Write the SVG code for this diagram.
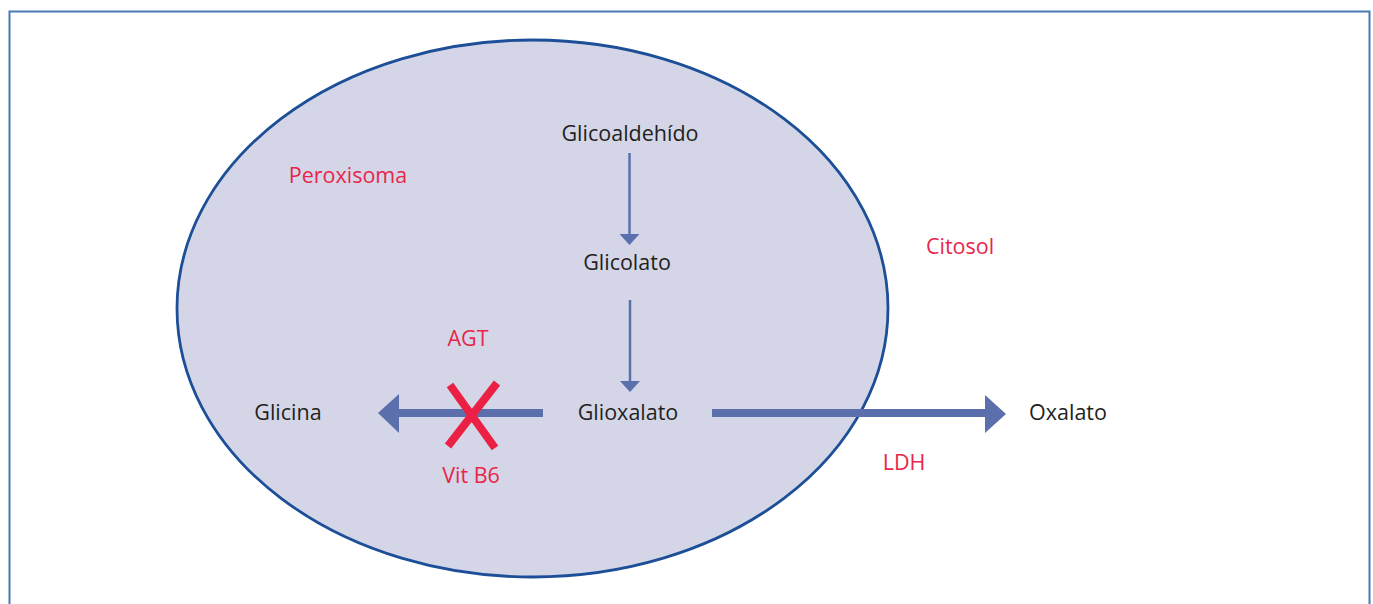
<svg xmlns="http://www.w3.org/2000/svg" width="1373" height="604" viewBox="0 0 1373 604">
<defs>
<style>
.t{font-family:"Open Sans","Liberation Sans",sans-serif;font-size:21.5px;fill:#231f20;text-anchor:middle}
.r{fill:#e8254a}
.thin{stroke:#5b6fad;stroke-width:2.5;fill:none}
.thick{stroke:#5b6fad;stroke-width:8;fill:none}
.head{fill:#5b6fad}
</style>
</defs>
<rect width="1373" height="604" fill="#ffffff"/>
<path d="M9.5 604 V11.5 H1369.5 V604" fill="none" stroke="#4a78b5" stroke-width="2"/>
<g id="peroxisoma">
<ellipse cx="532.5" cy="308.5" rx="355.5" ry="268.5" fill="#d4d6e8" stroke="#1c4f97" stroke-width="2.8"/>
<text class="t r" x="348" y="183">Peroxisoma</text>
</g>
<g id="citosol"><text class="t r" x="960" y="254">Citosol</text></g>
<g id="glicoaldehido"><text class="t" x="630" y="141">Glicoaldehído</text></g>
<g id="glicolato"><text class="t" x="627" y="270">Glicolato</text></g>
<g id="glioxalato"><text class="t" x="628" y="420">Glioxalato</text></g>
<g id="glicina"><text class="t" x="288" y="420">Glicina</text></g>
<g id="oxalato"><text class="t" x="1068" y="420">Oxalato</text></g>
<g id="connectors">
<line class="thin" x1="629.5" y1="153" x2="629.5" y2="236"/>
<polygon class="head" points="619.5,234 639.5,234 629.5,245"/>
<line class="thin" x1="630" y1="300" x2="630" y2="382"/>
<polygon class="head" points="620,381 640,381 630,392"/>
<line class="thick" x1="543" y1="413" x2="396" y2="413"/>
<polygon class="head" points="399,394 399,433 378,413"/>
<line class="thick" x1="712" y1="413" x2="987" y2="413"/>
<polygon class="head" points="985,395 985,433 1006,414"/>
<g stroke="#ea2044" stroke-width="8">
<line x1="450" y1="385" x2="495" y2="448"/>
<line x1="497" y1="383" x2="448" y2="446"/>
</g>
<text class="t r" x="468" y="346">AGT</text>
<text class="t r" x="471" y="483">Vit B6</text>
<text class="t r" x="904" y="470">LDH</text>
</g>
</svg>
